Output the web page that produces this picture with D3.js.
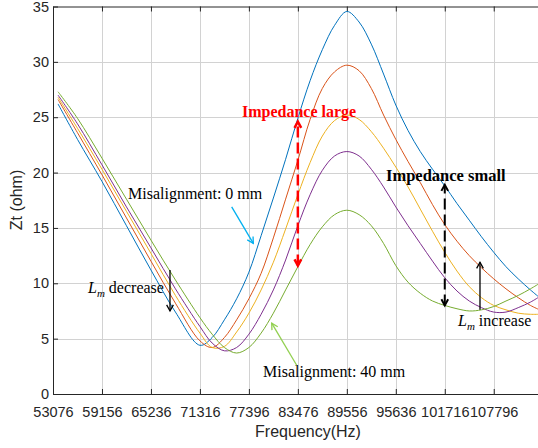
<!DOCTYPE html>
<html>
<head>
<meta charset="utf-8">
<script src="https://cdn.jsdelivr.net/npm/d3@7"></script>
<style>
  body { margin: 0; background: #fff; }
  svg { display: block; }
</style>
</head>
<body>
<svg id="chart" width="538" height="448"></svg>
<script>
// frequency samples (Hz)
const freq = [53700, 56116, 59156, 62196, 65236, 68276, 71316, 72836, 74356, 75876,
  77396, 78916, 80436, 81956, 83476, 84996, 86516, 88036, 89556, 91076,
  92596, 94116, 95636, 97156, 98676, 100196, 101716, 103236, 104756, 106276,
  107796, 109316, 110836, 112356, 113500];

// Zt (ohm), one list per misalignment
const zt0 = [26.2, 23.0, 19.2, 15.2, 11.2, 7.4, 4.4, 5.1, 6.7, 8.6,
  11.0, 14.3, 17.7, 21.2, 24.9, 28.3, 31.1, 33.3, 34.55, 33.6,
  31.6, 28.9, 26.1, 23.8, 21.9, 20.3, 18.8, 17.2, 15.7, 14.2,
  12.8, 11.5, 10.4, 9.4, 8.7];
const zt10 = [26.6, 23.6, 19.8, 15.9, 12.0, 8.2, 4.8, 4.2, 5.1, 6.7,
  8.6, 10.9, 14.1, 17.6, 21.1, 24.8, 27.6, 29.1, 29.7, 29.2,
  27.6, 25.2, 23.0, 21.0, 19.1, 17.1, 15.3, 13.8, 12.5, 11.4,
  10.4, 9.5, 8.7, 8.0, 7.6];
const zt20 = [26.8, 24.0, 20.3, 16.5, 12.7, 8.9, 5.5, 4.2, 4.3, 5.6,
  7.3, 9.4, 11.9, 14.9, 18.0, 20.9, 23.3, 24.7, 25.2, 24.8,
  23.7, 22.2, 20.5, 18.7, 16.7, 14.7, 12.8, 11.1, 9.7, 8.7,
  8.0, 7.6, 7.3, 7.2, 7.2];
const zt30 = [27.0, 24.4, 20.7, 16.9, 13.2, 9.5, 6.1, 4.6, 3.9, 4.2,
  5.4, 7.2, 9.4, 12.1, 15.2, 18.0, 20.2, 21.5, 21.9, 21.5,
  20.3, 18.7, 16.9, 15.2, 13.6, 12.0, 10.5, 9.3, 8.4, 7.8,
  7.4, 7.4, 7.8, 8.3, 8.8];
const zt40 = [27.3, 24.9, 21.3, 17.6, 13.9, 10.3, 6.9, 5.4, 4.2, 3.7,
  4.2, 5.5, 7.3, 9.4, 11.5, 13.5, 15.1, 16.2, 16.6, 16.2,
  15.2, 13.6, 11.6, 10.1, 9.1, 8.4, 8.0, 7.7, 7.5, 7.6,
  7.9, 8.4, 8.9, 9.5, 10.0];

const series = [zt0, zt10, zt20, zt30, zt40];
const colors = ["#0072BD", "#D95319", "#EDB120", "#7E2F8E", "#77AC30"];

const xTicks = [53076, 59156, 65236, 71316, 77396, 83476, 89556, 95636, 101716, 107796];
const yTicks = [0, 5, 10, 15, 20, 25, 30, 35];

const plotL = 53, plotR = 564, plotT = 6.5, plotB = 394;

const svg = d3.select("#chart");

const x = d3.scaleLinear().domain([53076, 116520]).range([plotL, plotR]);
const y = d3.scaleLinear().domain([0, 35]).range([plotB, plotT]);

// grid
svg.append("g")
  .selectAll("line")
  .data(xTicks.slice(1)).enter()
  .append("line")
  .attr("x1", d => Math.round(x(d)) + 0.5).attr("x2", d => Math.round(x(d)) + 0.5)
  .attr("y1", plotT).attr("y2", plotB)
  .attr("stroke", "#d2d2d2");
svg.append("g")
  .selectAll("line")
  .data(yTicks.slice(1, -1)).enter()
  .append("line")
  .attr("x1", plotL).attr("x2", plotR)
  .attr("y1", d => Math.round(y(d)) + 0.5).attr("y2", d => Math.round(y(d)) + 0.5)
  .attr("stroke", "#d2d2d2");

// axes (ticks point inside)
const xAxis = svg.append("g")
  .attr("transform", `translate(0,${plotB})`)
  .call(d3.axisBottom(x).tickValues(xTicks).tickFormat(d3.format("d"))
    .tickSizeInner(-5).tickSizeOuter(0).tickPadding(12.5));
const xTop = svg.append("g")
  .attr("transform", `translate(0,${plotT})`)
  .call(d3.axisTop(x).tickValues(xTicks).tickFormat("")
    .tickSizeInner(-5).tickSizeOuter(0));
const yAxis = svg.append("g")
  .attr("transform", `translate(${plotL},0)`)
  .call(d3.axisLeft(y).tickValues(yTicks)
    .tickSizeInner(-5).tickSizeOuter(0).tickPadding(4));

[xAxis, xTop, yAxis].forEach(g => {
  g.select(".domain").attr("stroke", "#262626");
  g.selectAll(".tick line").attr("stroke", "#262626");
  g.selectAll("text")
    .attr("fill", "#262626")
    .style("font-family", "'Liberation Sans', Arial, sans-serif")
    .style("font-size", "14.5px");
});

svg.append("text")
  .attr("x", 308).attr("y", 437)
  .attr("text-anchor", "middle")
  .style("font-family", "'Liberation Sans', Arial, sans-serif")
  .style("font-size", "16px").attr("fill", "#262626")
  .text("Frequency(Hz)");
svg.append("text")
  .attr("transform", "translate(22,200) rotate(-90)")
  .attr("text-anchor", "middle")
  .style("font-family", "'Liberation Sans', Arial, sans-serif")
  .style("font-size", "16px").attr("fill", "#262626")
  .text("Zt (ohm)");

// curves
svg.append("clipPath").attr("id", "plotclip")
  .append("rect").attr("x", plotL).attr("y", plotT)
  .attr("width", plotR - plotL).attr("height", plotB - plotT);

const line = d3.line()
  .x((d, i) => x(freq[i]))
  .y(d => y(d))
  .curve(d3.curveCatmullRom.alpha(0.5));

svg.append("g").attr("clip-path", "url(#plotclip)")
  .selectAll("path")
  .data(series).enter()
  .append("path")
  .attr("d", line)
  .attr("fill", "none")
  .attr("stroke", (d, i) => colors[i])
  .attr("stroke-width", 1);

// annotations
function arrow(f1, v1, f2, v2, color, width, dash, both) {
  const x1 = x(f1), y1 = y(v1), x2 = x(f2), y2 = y(v2);
  const g = svg.append("g")
    .attr("stroke", color).attr("stroke-width", width).attr("fill", "none");
  g.append("line").attr("x1", x1).attr("y1", y1).attr("x2", x2).attr("y2", y2)
    .attr("stroke-dasharray", dash || null);
  const head = (hx, hy, ang) => {
    const len = 7, spread = 0.5;
    g.append("path").attr("d",
      `M${hx - len * Math.cos(ang - spread)},${hy - len * Math.sin(ang - spread)}` +
      `L${hx},${hy}` +
      `L${hx - len * Math.cos(ang + spread)},${hy - len * Math.sin(ang + spread)}`)
      .attr("stroke-linejoin", "miter");
  };
  const a = Math.atan2(y2 - y1, x2 - x1);
  head(x2, y2, a);
  if (both) head(x1, y1, a + Math.PI);
}

function label(f, v, txt, opts) {
  const t = svg.append("text")
    .attr("x", x(f)).attr("y", y(v))
    .style("font-family", "'Liberation Serif', 'Times New Roman', serif")
    .style("font-size", (opts.size || 16) + "px")
    .style("font-weight", opts.bold ? "bold" : "normal")
    .attr("fill", opts.color || "#000");
  if (opts.lm) {
    t.append("tspan").style("font-style", "italic").text("L");
    t.append("tspan").style("font-style", "italic").style("font-size", "11px")
      .attr("dy", 4).text("m");
    t.append("tspan").attr("dy", -4).text(" " + txt);
  } else {
    t.text(txt);
  }
}

label(62388, 17.6, "Misalignment: 0 mm", {});
arrow(75263, 16.9, 77945, 13.6, "#00B0F0", 1.3);

label(79150, 1.5, "Misalignment: 40 mm", {});
arrow(83333, 2.6, 80229, 6.4, "#92D050", 1.3);

label(76542, 25.0, "Impedance large", { bold: true, size: 16, color: "#FF0000" });
arrow(83476, 11.6, 83476, 24.6, "#FF0000", 2.5, "11,5", true);

label(94420, 19.2, "Impedance small", { bold: true, size: 16.5 });
arrow(101716, 8.0, 101716, 18.9, "#000", 2, "11,5", true);

label(57422, 9.1, "decrease", { lm: true });
arrow(67602, 11.2, 67602, 7.5, "#000", 1.3);

label(103360, 6.1, "increase", { lm: true });
arrow(106090, 7.6, 106090, 11.9, "#000", 1.3);
</script>
</body>
</html>
